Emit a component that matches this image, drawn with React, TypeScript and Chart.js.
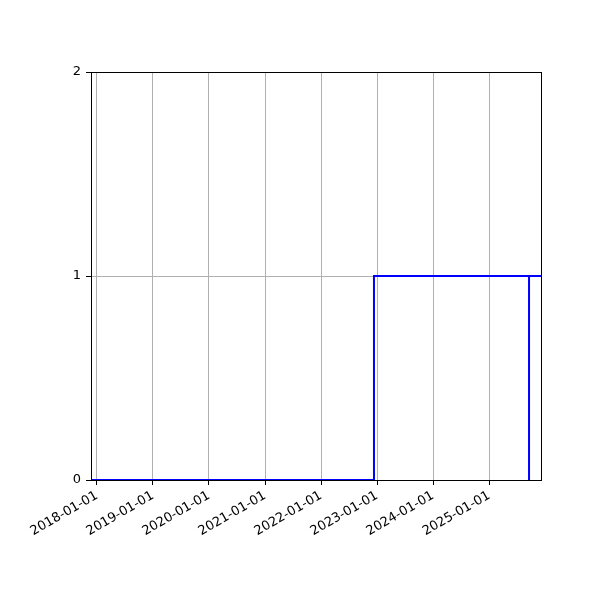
import React, { useEffect, useRef } from "react";
import { Chart, registerables } from "chart.js";

Chart.register(...registerables);

// step series (value holds until next date)
const dates = ["2017-11-23", "2022-12-12", "2025-09-18", "2025-09-18", "2025-12-05"];
const values = [0, 1, 0, 1, 1];
const yearTicks = ["2018-01-01", "2019-01-01", "2020-01-01", "2021-01-01", "2022-01-01", "2023-01-01", "2024-01-01", "2025-01-01"];
const yTicks = [0, 1, 2];

const toMs = (s: string) => Date.parse(s + "T00:00:00Z");
const fmt = (ms: number) => new Date(ms).toISOString().slice(0, 10);

const frame = {
  id: "frame",
  afterDraw(chart: any) {
    const { ctx, chartArea: a } = chart;
    ctx.save();
    ctx.strokeStyle = "#000";
    ctx.lineWidth = 1;
    ctx.strokeRect(a.left + 0.5, a.top + 0.5, a.right - a.left, a.bottom - a.top);
    ctx.restore();
  },
};

const App = () => {
  const chartRef = useRef<HTMLCanvasElement>(null);

  useEffect(() => {
    if (!chartRef.current) return;
    const ctx = chartRef.current.getContext("2d");
    if (!ctx) return;
    const font = { family: "DejaVu Sans", size: 13 };
    const chart = new Chart(ctx, {
      type: "line",
      data: {
        datasets: [
          {
            data: dates.map((d, i) => ({ x: toMs(d), y: values[i] })),
            borderColor: "#0000ff",
            borderWidth: 2,
            pointRadius: 0,
            stepped: "before",
            fill: false,
          },
        ],
      },
      options: {
        animation: false,
        responsive: false,
        maintainAspectRatio: false,
        layout: { padding: { top: 72, right: 59, left: 0, bottom: 0 } },
        plugins: { legend: { display: false }, tooltip: { enabled: false } },
        scales: {
          x: {
            type: "linear",
            min: toMs(dates[0]),
            max: toMs(dates[dates.length - 1]),
            afterBuildTicks: (scale: any) => {
              scale.ticks = yearTicks.map((t) => ({ value: toMs(t) }));
            },
            afterFit: (scale: any) => {
              scale.height = 120;
            },
            ticks: {
              callback: (v: any) => fmt(Number(v)),
              minRotation: 30,
              maxRotation: 30,
              autoSkip: false,
              color: "#000",
              font,
              padding: 3,
            },
            grid: { color: "#b0b0b0", tickColor: "#000", tickLength: 5, lineWidth: 1 },
            border: { color: "#000", width: 1 },
          },
          y: {
            min: 0,
            max: 2,
            afterBuildTicks: (scale: any) => {
              scale.ticks = yTicks.map((v) => ({ value: v }));
            },
            afterFit: (scale: any) => {
              scale.width = 91;
            },
            ticks: { color: "#000", font, padding: 5 },
            grid: { color: "#b0b0b0", tickColor: "#000", tickLength: 5, lineWidth: 1 },
            border: { color: "#000", width: 1 },
          },
        },
      },
      plugins: [frame],
    });
    return () => {
      chart.destroy();
    };
  }, []);

  return (
    <div style={{ position: "fixed", left: 0, top: 0, width: 600, height: 600, background: "#fff" }}>
      <canvas ref={chartRef} width={600} height={600} style={{ width: 600, height: 600 }} />
    </div>
  );
};

export default App;
